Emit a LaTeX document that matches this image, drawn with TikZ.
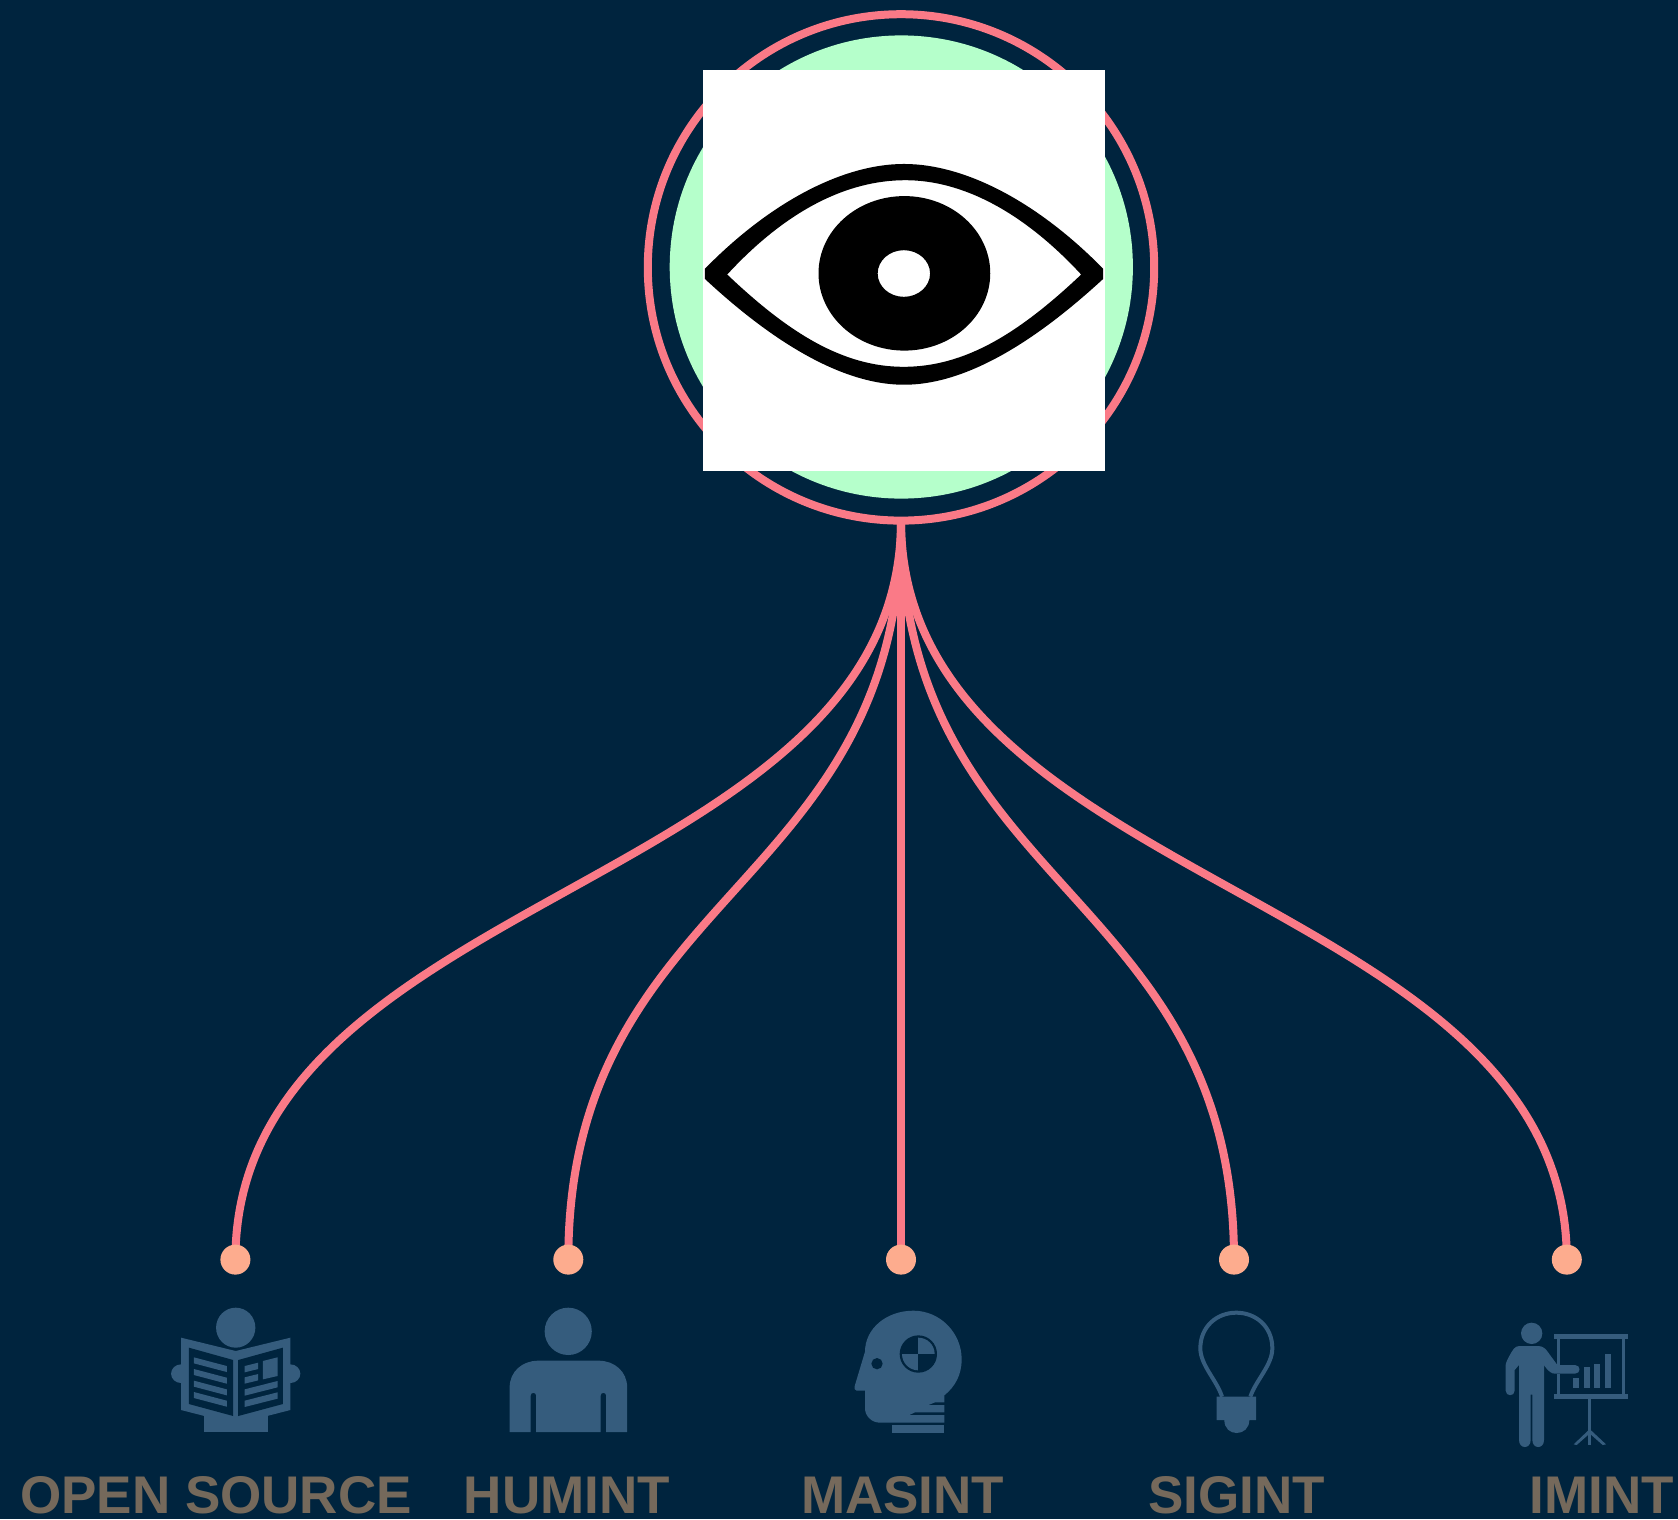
\documentclass[tikz,border=0pt]{standalone}
\usepackage{fontspec}
\setmainfont{Liberation Sans}
\usetikzlibrary{calc}
\definecolor{bgc}{HTML}{00243E}
\definecolor{ringc}{HTML}{FA7A87}
\definecolor{mintc}{HTML}{B5FFCB}
\definecolor{dotc}{HTML}{FDAC8E}
\definecolor{iconc}{HTML}{355C7D}
\definecolor{labc}{HTML}{75695B}
\pgfdeclarelayer{links}
\pgfsetlayers{links,main}
\tikzset{
  ringnode/.style={circle,draw=ringc,line width=8pt,minimum size=506.4pt,inner sep=0pt,outer sep=0pt},
  mintnode/.style={circle,fill=mintc,minimum size=463.2pt,inner sep=0pt,outer sep=0pt},
  whitebox/.style={fill=white,draw=none,minimum width=401.6pt,minimum height=400.8pt,inner sep=0pt,outer sep=0pt},
  dotnode/.style={circle,fill=dotc,minimum size=30pt,inner sep=0pt,outer sep=0pt},
  linkline/.style={draw=ringc,line width=8pt},
  lab/.style={anchor=base,text=labc,font=\fontsize{53pt}{56pt}\selectfont\bfseries,inner sep=0pt},
  ico/.style={fill=iconc,draw=none},
  icobg/.style={fill=bgc,draw=none},
}
\newcommand{\linkto}[1]{%
  \draw[linkline] (ring.south) .. controls ($(ring.south)!0.5!(ring.south |- #1)$) and ($(#1)!0.5!(#1 |- ring.south)$) .. (#1.center);}
\begin{document}
\begin{tikzpicture}[x=1pt,y=-1pt]
\useasboundingbox (0,0) rectangle (1678,1519);
\begin{pgfonlayer}{links}
\fill[bgc] (0,0) rectangle (1678,1519);
\end{pgfonlayer}
\node[mintnode] (mint) at (901.3,267) {};
\node[ringnode] (ring) at (901,267.4) {};
\node[dotnode] (d1) at (235.4,1259.6) {};
\node[dotnode] (d2) at (568.3,1259.6) {};
\node[dotnode] (d3) at (901,1259.6) {};
\node[dotnode] (d4) at (1234,1259.6) {};
\node[dotnode] (d5) at (1566.8,1259.6) {};
\begin{pgfonlayer}{links}
\linkto{d1}\linkto{d2}\linkto{d3}\linkto{d4}\linkto{d5}
\end{pgfonlayer}
\node[whitebox] (eyebox) at (904,270.3) {};
% eye
\begin{scope}[shift={(640,0)},x=0.33807pt,y=-0.33807pt]
\fill[black,even odd rule] (192,795) .. controls (385,598) and (600,485) .. (781,485)
  .. controls (962,485) and (1177,598) .. (1370,795) -- (1370,825)
  .. controls (1180,1000) and (972,1138) .. (781,1138)
  .. controls (590,1138) and (380,1000) .. (192,825) -- cycle
  (258,812) .. controls (430,625) and (610,533) .. (785,533)
  .. controls (952,533) and (1132,625) .. (1305,812)
  .. controls (1122,985) and (962,1085) .. (780,1085)
  .. controls (600,1085) and (440,985) .. (258,812) -- cycle;
\fill[black,even odd rule] (782,808.5) ellipse [x radius=254,y radius=228.5]
  (780.5,809) ellipse [x radius=77.5,y radius=69];
\end{scope}
% newspaper reader
\begin{scope}[shift={(140,1280)},x=0.35714pt,y=-0.33333pt]
\fill[ico] (268,143) ellipse [x radius=55,y radius=60];
\fill[ico] (115,281) circle (28);
\fill[ico] (421,281) circle (28);
\fill[ico] (178,380) rectangle (357,456);
\fill[ico] (115,173) -- (268,213) -- (421,173) -- (421,390) -- (268,432) -- (115,390) -- cycle;
\fill[icobg] (137,203) -- (261,240) -- (261,408) -- (137,372) -- cycle;
\fill[icobg] (275,240) -- (400,203) -- (400,372) -- (275,408) -- cycle;
\foreach \d in {0,35,70,104}{
  \fill[ico] (151,232+\d) -- (243,258+\d) -- (243,276+\d) -- (151,250+\d) -- cycle;}
\fill[ico] (293,258) -- (331,248) -- (331,267) -- (293,277) -- cycle;
\fill[ico] (293,292) -- (331,282) -- (331,301) -- (293,311) -- cycle;
\fill[ico] (344,243) -- (385,232) -- (385,288) -- (344,298) -- cycle;
\fill[ico] (293,328) -- (385,303) -- (385,322) -- (293,347) -- cycle;
\fill[ico] (293,362) -- (385,337) -- (385,356) -- (293,381) -- cycle;
\end{scope}
% person
\begin{scope}[shift={(140,1280)},x=0.35714pt,y=-0.33333pt]
\fill[ico] (1199,154) ellipse [x radius=66,y radius=71];
\fill[ico] (1035,456) -- (1035,322) .. controls (1035,275) and (1070,242) .. (1115,242)
  -- (1284,242) .. controls (1329,242) and (1364,275) .. (1364,322) -- (1364,456)
  -- (1305,456) -- (1305,346) arc [start angle=0,end angle=-180,x radius=7.5,y radius=7.5]
  -- (1290,456) -- (1109,456) -- (1109,346) arc [start angle=0,end angle=-180,x radius=7.5,y radius=7.5]
  -- (1094,456) -- cycle;
\end{scope}
% head
\begin{scope}[shift={(820,1280)},x=0.33333pt,y=-0.33333pt]
\fill[ico] (280,92) .. controls (360,92) and (425,158) .. (425,238)
  .. controls (425,285) and (405,320) .. (373,346) -- (373,367) -- (345,367) -- (325,375) -- (373,375)
  -- (373,397) -- (285,397) -- (268,405) -- (373,405) -- (373,428)
  -- (180,428) .. controls (155,428) and (135,408) .. (135,385) -- (135,332) -- (110,332)
  .. controls (103,332) and (102,325) .. (105,315)
  -- (135,215) .. controls (135,145) and (200,92) .. (280,92) -- cycle;
\fill[ico] (217,436) rectangle (373,459);
\fill[icobg] (171,251) circle (17);
\fill[icobg] (295,222) circle (56);
\begin{scope}
\clip (295,222) circle (49);
\fill[ico] (295,222) rectangle (350,167);
\fill[ico] (295,222) rectangle (240,277);
\end{scope}
\end{scope}
% bulb
\begin{scope}[shift={(820,1280)},x=0.33333pt,y=-0.33333pt]
\draw[draw=iconc,line width=4pt] (1206,350) .. controls (1190,300) and (1141,255) .. (1141,205)
  .. controls (1141,140) and (1190,98) .. (1249,98)
  .. controls (1308,98) and (1357,140) .. (1357,205)
  .. controls (1357,255) and (1308,300) .. (1291,350);
\fill[ico] (1190,350) -- (1308,350) -- (1308,420) -- (1288,420)
  .. controls (1288,445) and (1270,459) .. (1250,459)
  .. controls (1230,459) and (1213,445) .. (1213,420) -- (1190,420) -- cycle;
\end{scope}
% presenter
\begin{scope}[shift={(1470,1290)},x=0.33333pt,y=-0.33333pt]
\fill[ico] (185,130) circle (32);
\fill[ico] (148,168) -- (205,168) .. controls (220,168) and (228,178) .. (235,188)
  -- (262,225) -- (315,225) .. controls (333,225) and (333,251) .. (315,251)
  -- (255,251) .. controls (245,251) and (235,245) .. (222,225)
  -- (222,450) .. controls (222,478) and (187,478) .. (187,450) -- (187,314) -- (182,314)
  -- (182,450) .. controls (182,478) and (147,478) .. (147,450) -- (147,225) -- (134,240)
  -- (134,302) .. controls (134,320) and (107,320) .. (107,302) -- (107,225)
  .. controls (107,215) and (125,185) .. (130,178) .. controls (135,171) and (140,168) .. (148,168) -- cycle;
\fill[ico] (252,132) rectangle (473,147);
\fill[ico] (252,312) rectangle (473,326);
\fill[ico] (260,147) rectangle (270,225);
\fill[ico] (260,251) rectangle (270,312);
\fill[ico] (456,147) rectangle (466,312);
\fill[ico] (354,326) rectangle (364,465);
\fill[ico] (356,420) -- (362,428) -- (320,465) -- (311,463) -- cycle;
\fill[ico] (362,420) -- (356,428) -- (398,465) -- (408,463) -- cycle;
\fill[ico] (309,263) rectangle (328,293);
\fill[ico] (341,232) rectangle (360,293);
\fill[ico] (372,221) rectangle (391,293);
\fill[ico] (404,191) rectangle (423,293);
\end{scope}
% labels
\node[lab] (l1) at (216,1513) {OPEN SOURCE};
\node[lab] (l2) at (567,1513) {HUMINT};
\node[lab] (l3) at (902.6,1513) {MASINT};
\node[lab] (l4) at (1236.5,1513) {SIGINT};
\node[lab] (l5) at (1602,1513) {IMINT};
\end{tikzpicture}
\end{document}
